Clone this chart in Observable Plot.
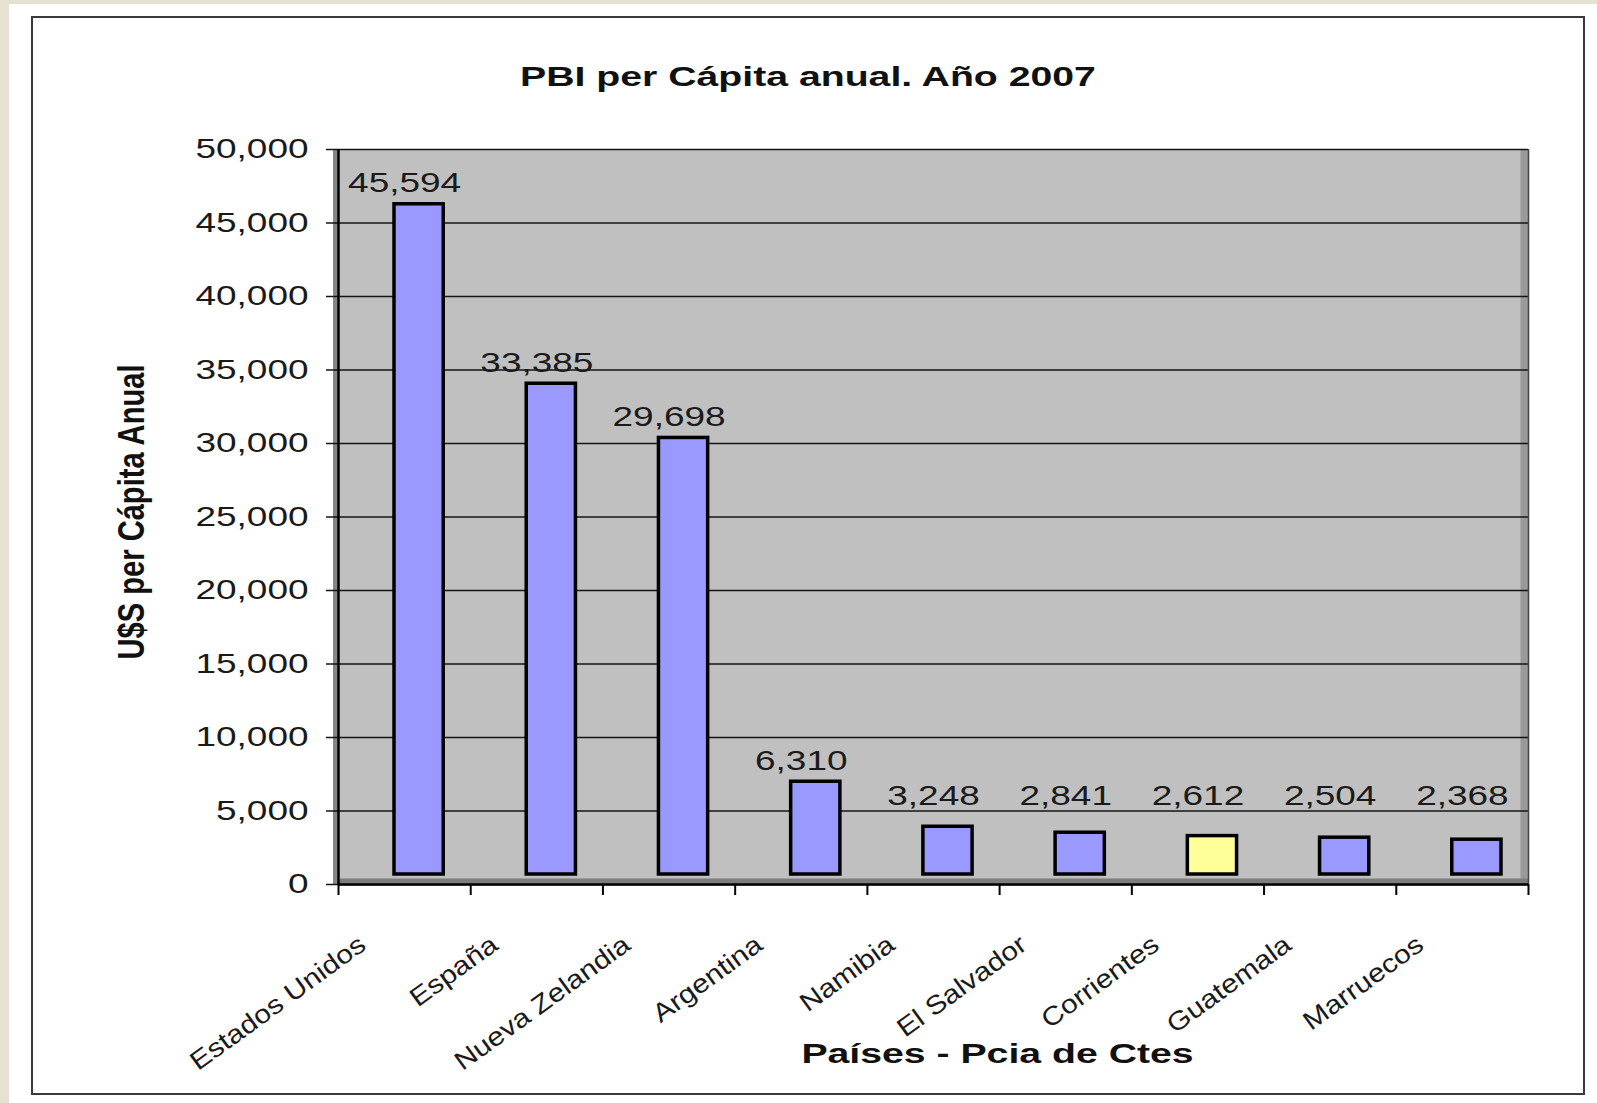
<!DOCTYPE html>
<html>
<head>
<meta charset="utf-8">
<script src="https://cdn.jsdelivr.net/npm/d3@7"></script>
<script src="https://cdn.jsdelivr.net/npm/@observablehq/plot@0.6"></script>
<style>
  html, body { margin: 0; padding: 0; width: 1597px; height: 1103px; overflow: hidden; background: #E6E2D1; }
  #page { position: absolute; left: 9px; top: 4px; right: 0; bottom: 0; background: #ffffff; }
  #frame { position: absolute; left: 31px; top: 16px; width: 1550px; height: 1075px; border: 2px solid #3a3a3a; }
  #title { position: absolute; left: 0; top: 63px; width: 1616px; text-align: center;
           font-family: "Liberation Sans", Arial, sans-serif; font-weight: bold; font-size: 28px; line-height: 28px;
           color: #111; transform: scaleX(1.4); transform-origin: 808px 0; white-space: nowrap; }
  #chart { position: absolute; left: 0; top: 100px; }
</style>
</head>
<body>
<div id="page"></div>
<div id="frame"></div>
<div id="title">PBI per Cápita anual. Año 2007</div>
<div id="chart"></div>
<script>
// ---- data ----
const categories = ["Estados Unidos", "España", "Nueva Zelandia", "Argentina", "Namibia", "El Salvador", "Corrientes", "Guatemala", "Marruecos"];
const values = [45594, 33385, 29698, 6310, 3248, 2841, 2612, 2504, 2368];
const highlighted = ["Corrientes"];
const yTicks = [0, 5000, 10000, 15000, 20000, 25000, 30000, 35000, 40000, 45000, 50000];
const yTitle = "U$S per Cápita Anual";
const xTitle = "Países - Pcia de Ctes";

const data = categories.map((name, idx) => ({name, idx, value: values[idx]}));
const fmt = d3.format(",");
const xBounds = d3.range(categories.length + 1);
const FONT = "'Liberation Sans', Arial, sans-serif";

const chart = Plot.plot({
  width: 1597,
  height: 1000,
  marginLeft: 338,
  marginRight: 69,
  marginTop: 49,
  marginBottom: 216,
  style: {background: "transparent", overflow: "visible", fontFamily: FONT},
  x: {type: "linear", domain: [0, categories.length], axis: null},
  y: {type: "linear", domain: [0, 50000], axis: null},
  marks: [
    Plot.frame({fill: "#C0C0C0", stroke: "none"}),
    // wall / floor shading
    Plot.ruleX([categories.length], {stroke: "#9a9a9a", strokeWidth: 8, dx: -4}),
    Plot.ruleX([0], {stroke: "#878787", strokeWidth: 5, dx: -3}),
    Plot.ruleY([0], {stroke: "#7d7d7d", strokeWidth: 5, dy: -3.5}),
    // gridlines + y ticks
    Plot.ruleY(yTicks, {y: d => d, stroke: "#151515", strokeWidth: 1.6, insetLeft: -12}),
    Plot.ruleX([categories.length], {stroke: "#444", strokeWidth: 1.5}),
    // axes
    Plot.ruleX([0], {stroke: "#000", strokeWidth: 2.5}),
    Plot.ruleY([0], {stroke: "#000", strokeWidth: 2.5}),
    Plot.ruleX(xBounds, {x: d => d, y1: 0, y2: 0, insetBottom: -11, stroke: "#000", strokeWidth: 2}),
    // bars
    Plot.rectY(data, {
      x1: "idx", x2: d => d.idx + 1, y: "value",
      insetLeft: 56, insetRight: 27, dy: -10,
      fill: d => highlighted.includes(d.name) ? "#FFFF99" : "#9999FF",
      stroke: "#000", strokeWidth: 3.5
    }),
    // value labels (text group 0)
    Plot.text(data, {
      x: d => d.idx + 0.5, y: d => Math.max(d.value, 3900), text: d => fmt(d.value),
      dy: -31, fontSize: 28, fill: "#1a1a1a"
    }),
    // y tick labels (text group 1)
    Plot.text(yTicks, {
      x: 0, y: d => d, text: d => fmt(d), textAnchor: "end", dx: -30,
      fontSize: 28, fill: "#1a1a1a"
    }),
    // x tick labels (text group 2)
    Plot.text(data, {
      x: d => d.idx + 0.5, y: 0, text: "name", rotate: -36, textAnchor: "end",
      dx: -42, dy: 57, fontSize: 26, fill: "#1a1a1a"
    }),
    // axis titles (text groups 3, 4)
    Plot.text([yTitle], {
      frameAnchor: "left", textAnchor: "middle", rotate: -90, lineAnchor: "bottom", dx: -195, dy: -5,
      fontSize: 36, fontWeight: "bold", fill: "#111"
    }),
    Plot.text([xTitle], {
      frameAnchor: "bottom", textAnchor: "middle", lineAnchor: "bottom", dx: 64, dy: 178,
      fontSize: 28, fontWeight: "bold", fill: "#111"
    })
  ]
});

document.getElementById("chart").appendChild(chart);

const textGroups = chart.querySelectorAll('g[aria-label="text"]');
function stretch(group, k, fixed) {
  if (!group) return;
  group.querySelectorAll("text").forEach(t => {
    const L = t.getComputedTextLength();
    if (!(L > 0)) return;
    t.setAttribute("textLength", fixed ? fixed : L * k);
    t.setAttribute("lengthAdjust", "spacingAndGlyphs");
  });
}
stretch(textGroups[0], 1.32);
stretch(textGroups[1], 1.32);
stretch(textGroups[2], 1.15);
stretch(textGroups[3], 1, 295);
stretch(textGroups[4], 1.4);
</script>
</body>
</html>
